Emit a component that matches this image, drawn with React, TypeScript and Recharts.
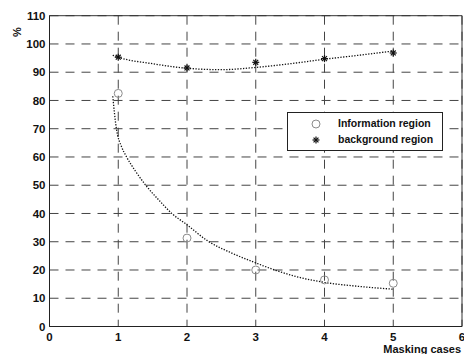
import {
  ComposedChart,
  Line,
  Scatter,
  XAxis,
  YAxis,
  CartesianGrid,
  ReferenceArea,
} from "recharts";

// ─── Data ─────────────────────────────────────────────────

const cases = [1, 2, 3, 4, 5];
const infoValues = [82.5, 31.3, 20, 16.5, 15.3];
const bgValues = [95.3, 91.5, 93.5, 94.8, 96.8];

// dotted fitted curves, sampled along the drawn trace
const infoFitX = [0.92, 0.97, 1.05, 1.11, 1.25, 1.4, 1.6, 1.78, 2.0, 2.3, 2.65, 3.0, 3.3, 3.6, 4.0, 4.5, 5.0];
const infoFitY = [81.5, 70.5, 63.5, 60.5, 55, 50, 44.5, 40, 36, 30.3, 26, 22.5, 19.8, 17.6, 15.6, 14.2, 13.2];
const bgFitX = [0.92, 1.0, 1.5, 2.0, 2.5, 3.0, 3.5, 4.0, 4.5, 5.0];
const bgFitY = [96, 95.3, 93, 91.4, 90.9, 91.7, 93, 94.6, 96, 97.5];

const xTicks = [0, 1, 2, 3, 4, 5, 6];
const yTicks = [0, 10, 20, 30, 40, 50, 60, 70, 80, 90, 100, 110];

const infoPoints = cases.map((x, i) => ({ x, y: infoValues[i] }));
const bgPoints = cases.map((x, i) => ({ x, y: bgValues[i] }));
const infoFit = infoFitX.map((x, i) => ({ x, y: infoFitY[i] }));
const bgFit = bgFitX.map((x, i) => ({ x, y: bgFitY[i] }));

const FONT = "'Liberation Sans', Arial, sans-serif";
const TICK = { fontSize: 11.5, fontWeight: 700, fill: "#111", fontFamily: FONT };

// ─── Markers ──────────────────────────────────────────────

interface DotProps {
  cx?: number;
  cy?: number;
}

function CircleMark({ cx, cy }: DotProps) {
  if (cx === undefined || cy === undefined) return <g />;
  return <circle cx={cx} cy={cy} r={4} fill="none" stroke="#8c8c8c" strokeWidth={1} />;
}

function StarMark({ cx, cy }: DotProps) {
  if (cx === undefined || cy === undefined) return <g />;
  const r = 3.5;
  const d = r * 0.7;
  return (
    <g stroke="#111" strokeWidth={1.2}>
      <line x1={cx - r} y1={cy} x2={cx + r} y2={cy} />
      <line x1={cx} y1={cy - r} x2={cx} y2={cy + r} />
      <line x1={cx - d} y1={cy - d} x2={cx + d} y2={cy + d} />
      <line x1={cx - d} y1={cy + d} x2={cx + d} y2={cy - d} />
    </g>
  );
}

// ─── Legend box (overlaid like MATLAB's inner legend) ────

function LegendBox() {
  return (
    <div
      style={{
        position: "absolute",
        left: 287,
        top: 112,
        width: 156,
        height: 39,
        border: "1px solid #222",
        background: "#fff",
        boxSizing: "border-box",
        fontFamily: FONT,
        fontWeight: 700,
        fontSize: 10.5,
        color: "#111",
      }}
    >
      <svg width={40} height={38} style={{ position: "absolute", left: 0, top: 0 }}>
        <CircleMark cx={28} cy={11} />
        <StarMark cx={28} cy={27} />
      </svg>
      <div style={{ position: "absolute", left: 50, top: 4, whiteSpace: "nowrap" }}>Information region</div>
      <div style={{ position: "absolute", left: 50, top: 20, whiteSpace: "nowrap" }}>background region</div>
    </div>
  );
}

// ─── Chart ────────────────────────────────────────────────

export default function App() {
  return (
    <div style={{ position: "absolute", left: 0, top: 0, width: 464, height: 354, background: "#fff" }}>
      <ComposedChart
        width={464}
        height={354}
        margin={{ top: 15.7, right: 2, left: 0, bottom: 0 }}
      >
        <CartesianGrid
          stroke="#444"
          strokeDasharray="9 7"
          verticalValues={xTicks}
          horizontalValues={yTicks}
        />
        <XAxis
          type="number"
          dataKey="x"
          domain={[0, 6]}
          ticks={xTicks}
          interval={0}
          height={27.5}
          tickSize={0}
          tickMargin={6}
          tick={TICK}
          axisLine={{ stroke: "#222" }}
          label={{
            value: "Masking cases",
            position: "insideBottomRight",
            offset: 1,
            style: { fontSize: 11, fontWeight: 700, fill: "#111", fontFamily: FONT },
          }}
        />
        <YAxis
          type="number"
          dataKey="y"
          domain={[0, 110]}
          ticks={yTicks}
          interval={0}
          width={49.5}
          tickSize={0}
          tickMargin={4}
          tick={TICK}
          axisLine={{ stroke: "#222" }}
          label={{
            content: () => (
              <text
                x={17}
                y={32}
                transform="rotate(-90 17 32)"
                textAnchor="middle"
                dominantBaseline="central"
                style={{ fontSize: 11, fontWeight: 700, fill: "#111", fontFamily: FONT }}
              >
                %
              </text>
            ),
          }}
        />
        <ReferenceArea x1={0} x2={6} y1={0} y2={110} fill="none" stroke="#333" strokeWidth={1} />
        <Line
          data={infoFit}
          dataKey="y"
          type="monotone"
          stroke="#111"
          strokeWidth={1.3}
          strokeDasharray="1.3 1.5"
          dot={false}
          activeDot={false}
          isAnimationActive={false}
        />
        <Line
          data={bgFit}
          dataKey="y"
          type="monotone"
          stroke="#111"
          strokeWidth={1.3}
          strokeDasharray="1.3 1.5"
          dot={false}
          activeDot={false}
          isAnimationActive={false}
        />
        <Scatter
          name="Information region"
          data={infoPoints}
          dataKey="y"
          shape={(p: DotProps) => <CircleMark {...p} />}
          isAnimationActive={false}
        />
        <Scatter
          name="background region"
          data={bgPoints}
          dataKey="y"
          shape={(p: DotProps) => <StarMark {...p} />}
          isAnimationActive={false}
        />
      </ComposedChart>
      <LegendBox />
    </div>
  );
}
